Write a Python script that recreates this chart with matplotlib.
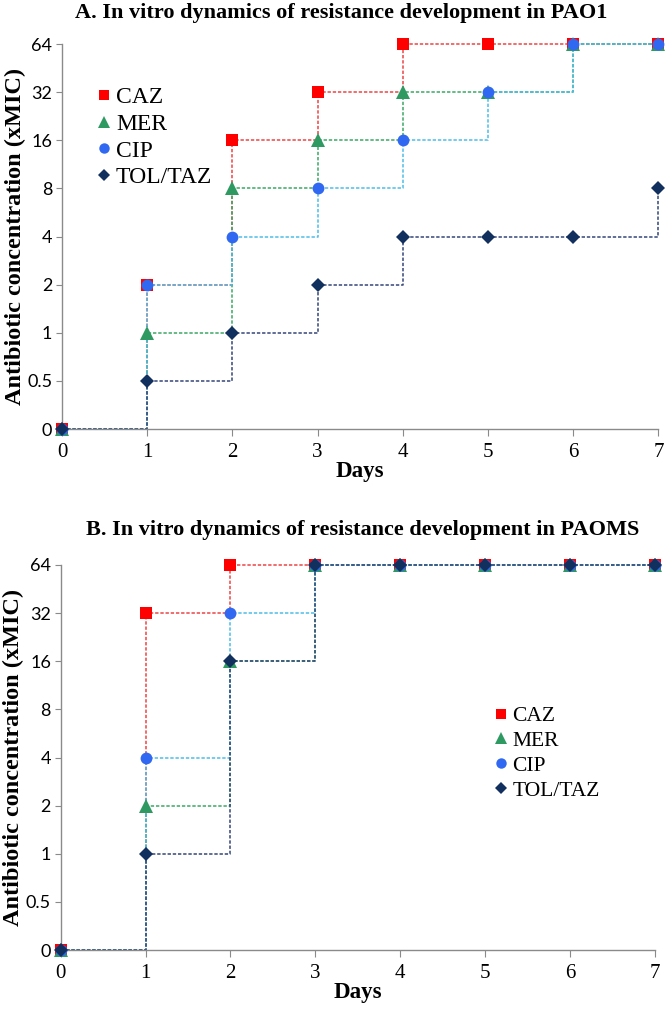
import matplotlib
matplotlib.use("Agg")
import matplotlib.pyplot as plt
from matplotlib.lines import Line2D

# ---- data ----
days = [0, 1, 2, 3, 4, 5, 6, 7]
levels = [0, 0.5, 1, 2, 4, 8, 16, 32, 64]
level_labels = ["0", "0.5", "1", "2", "4", "8", "16", "32", "64"]
series_names = ["CAZ", "MER", "CIP", "TOL/TAZ"]

pao1_caz = [0, 2, 16, 32, 64, 64, 64, 64]
pao1_mer = [0, 1, 8, 16, 32, 32, 64, 64]
pao1_cip = [0, 2, 4, 8, 16, 32, 64, 64]
pao1_tol = [0, 0.5, 1, 2, 4, 4, 4, 8]

paoms_caz = [0, 32, 64, 64, 64, 64, 64, 64]
paoms_mer = [0, 2, 16, 64, 64, 64, 64, 64]
paoms_cip = [0, 4, 32, 64, 64, 64, 64, 64]
paoms_tol = [0, 1, 16, 64, 64, 64, 64, 64]

title_a = "A. In vitro dynamics of resistance development in PAO1"
title_b = "B. In vitro dynamics of resistance development in PAOMS"

# ---- styles ----
marker_colors = ["#FF0000", "#2E9A62", "#3068F2", "#12305E"]
line_colors = ["#EE4444", "#3AA865", "#4DBDE8", "#34467A"]
markers = ["s", "^", "o", "D"]
msizes = [8.5, 9.5, 8.5, 7.5]

serif = ["Liberation Serif", "DejaVu Serif"]
sans = ["Lato", "DejaVu Sans"]

fig = plt.figure(figsize=(6.66, 10.10), dpi=100)

def to_idx(vals):
    return [levels.index(v) for v in vals]

def draw_panel(rect, data, title, title_xy, legend_anchor, legend_fs, legend_spacing):
    ax = fig.add_axes(rect)
    for i, vals in enumerate(data):
        ax.plot(days, to_idx(vals), drawstyle="steps-post", linestyle=(0, (2.2, 1.2)),
                linewidth=1.1, color=line_colors[i], zorder=2, clip_on=False)
    for i, vals in enumerate(data):
        ax.plot(days, to_idx(vals), linestyle="none", marker=markers[i], markersize=msizes[i],
                color=marker_colors[i], markeredgewidth=0, zorder=3 + i, clip_on=False)
    ax.set_xlim(0, 7)
    ax.set_ylim(0, len(levels) - 1)
    ax.set_xticks(days)
    ax.set_xticklabels([str(d) for d in days], family=serif, fontsize=15)
    ax.set_yticks(range(len(levels)))
    ax.set_yticklabels(level_labels, family=sans, fontsize=13)
    for s in ["top", "right"]:
        ax.spines[s].set_visible(False)
    for s in ["left", "bottom"]:
        ax.spines[s].set_color("#8A8A8A")
        ax.spines[s].set_linewidth(1.0)
    ax.tick_params(axis="x", direction="out", length=5, color="#8A8A8A", pad=5)
    ax.tick_params(axis="y", direction="out", length=4, color="#8A8A8A", pad=3)
    ax.set_xlabel("Days", family=serif, fontsize=16.5, fontweight="bold", labelpad=-1)
    ax.set_ylabel("Antibiotic concentration (xMIC)", family=serif, fontsize=17.5,
                  fontweight="bold", labelpad=1)
    fig.text(title_xy[0], title_xy[1], title, family=serif, fontsize=16,
             fontweight="bold", ha="center", va="center")
    handles = [Line2D([], [], linestyle="none", marker=markers[i], markersize=msizes[i] - 1,
                      color=marker_colors[i], markeredgewidth=0) for i in range(4)]
    ax.legend(handles, series_names, loc="upper left", bbox_to_anchor=legend_anchor,
              bbox_transform=fig.transFigure, frameon=False,
              prop={"family": serif, "size": legend_fs}, handlelength=0.6,
              handletextpad=0.2, labelspacing=legend_spacing, borderpad=0)
    return ax

draw_panel([0.0931, 0.5752, 0.8956, 0.3812],
           [pao1_caz, pao1_mer, pao1_cip, pao1_tol],
           title_a, (0.512, 0.987), (0.128, 0.926), 17, 0.22)
draw_panel([0.0911, 0.0594, 0.8924, 0.3812],
           [paoms_caz, paoms_mer, paoms_cip, paoms_tol],
           title_b, (0.544, 0.475), (0.727, 0.3115), 15.5, 0.22)

fig.savefig("out.png", dpi=100)
